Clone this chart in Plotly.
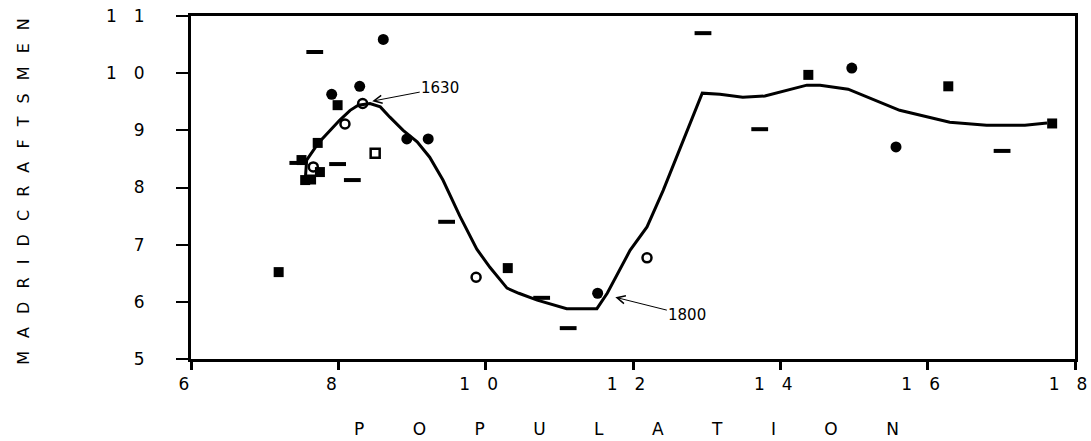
import plotly.graph_objects as go

# Smoothed trend of Madrid craftsmen against population
trend_x = [7.55, 7.57, 7.73, 7.89, 8.02, 8.16, 8.27, 8.43, 8.57, 8.70, 8.88, 9.07,
           9.24, 9.42, 9.65, 9.88, 10.06, 10.29, 10.45, 10.70, 11.10, 11.51, 11.65,
           11.96, 12.19, 12.41, 12.94, 13.18, 13.49, 13.79, 14.36, 14.54, 14.92,
           15.62, 16.30, 16.80, 17.32, 17.62]
trend_y = [8.12, 8.48, 8.78, 9.00, 9.18, 9.35, 9.44, 9.47, 9.41, 9.23, 9.00, 8.80,
           8.53, 8.13, 7.50, 6.92, 6.60, 6.24, 6.15, 6.03, 5.88, 5.88, 6.15,
           6.90, 7.31, 7.95, 9.65, 9.63, 9.58, 9.60, 9.79, 9.79, 9.72,
           9.35, 9.14, 9.09, 9.09, 9.13]

# Observations, grouped by plotting symbol
sq_x = [7.19, 7.99, 7.72, 7.50, 7.75, 7.55, 7.63, 10.30, 14.38, 16.28, 17.69]
sq_y = [6.52, 9.44, 8.78, 8.48, 8.27, 8.13, 8.14, 6.59, 9.97, 9.77, 9.12]

dot_x = [8.61, 8.29, 7.91, 8.93, 9.22, 11.52, 14.97, 15.57]
dot_y = [10.59, 9.77, 9.63, 8.85, 8.85, 6.15, 10.09, 8.71]

ring_x = [8.09, 7.66, 9.87, 12.19, 8.33]
ring_y = [9.11, 8.36, 6.43, 6.77, 9.47]

box_x = [8.50]
box_y = [8.60]

dash_x = [7.68, 7.45, 7.99, 8.19, 9.47, 10.76, 11.12, 12.95, 13.72, 17.01]
dash_y = [10.37, 8.43, 8.41, 8.13, 7.40, 6.07, 5.54, 10.70, 9.02, 8.64]

# Labelled years on the trend
year_labels = ["1630", "1800"]
year_x = [8.46, 11.76]
year_y = [9.51, 6.08]

x_tick_values = [6, 8, 10, 12, 14, 16, 18]
y_tick_values = [5, 6, 7, 8, 9, 10, 11]

x_title = "POPULATION"
y_title = "MADRIDCRAFTSMEN"

FONT = "DejaVu Sans, Liberation Sans, Arial, sans-serif"


def spaced_digits(v):
    return "\u2003".join(str(v))


def spaced_letters(word, sep):
    return sep.join(word)


fig = go.Figure()

fig.add_trace(go.Scatter(x=trend_x, y=trend_y, mode="lines",
                         line=dict(color="black", width=3), hoverinfo="skip"))

fig.add_trace(go.Scatter(x=sq_x, y=sq_y, mode="markers",
                         marker=dict(symbol="square", size=10, color="black")))
fig.add_trace(go.Scatter(x=dot_x, y=dot_y, mode="markers",
                         marker=dict(symbol="circle", size=11, color="black")))
fig.add_trace(go.Scatter(x=ring_x, y=ring_y, mode="markers",
                         marker=dict(symbol="circle-open", size=9,
                                     color="black", line=dict(width=2.5))))
fig.add_trace(go.Scatter(x=box_x, y=box_y, mode="markers",
                         marker=dict(symbol="square-open", size=9,
                                     color="black", line=dict(width=2.5))))
fig.add_trace(go.Scatter(x=dash_x, y=dash_y, mode="markers",
                         marker=dict(symbol="line-ew", size=12,
                                     color="black", line=dict(width=4, color="black"))))

offsets = [(68, -13), (72, 18)]
for lbl, xv, yv, (ax, ay) in zip(year_labels, year_x, year_y, offsets):
    fig.add_annotation(x=xv, y=yv, text=lbl, showarrow=True,
                       ax=ax, ay=ay, arrowhead=5, arrowsize=1.6, arrowwidth=1,
                       arrowcolor="black", standoff=0,
                       font=dict(family=FONT, size=15, color="black"))

fig.add_annotation(text=spaced_letters(x_title, "\u2003\u2003\u2002\u2005\u200a"),
                   xref="paper", yref="paper", x=0.493, y=-0.205,
                   xanchor="center", yanchor="middle", showarrow=False,
                   font=dict(family=FONT, size=17, color="black"))
fig.add_annotation(text=spaced_letters(y_title, "\u2002\u00a0"),
                   xref="paper", yref="paper", x=-0.189, y=0.49,
                   xanchor="center", yanchor="middle", showarrow=False,
                   textangle=-90,
                   font=dict(family=FONT, size=16, color="black"))

fig.update_xaxes(range=[6, 18], tickvals=x_tick_values,
                 ticktext=[spaced_digits(v) for v in x_tick_values],
                 showgrid=False, zeroline=False, showline=True, linewidth=3,
                 linecolor="black", mirror=True, ticks="outside", ticklen=8,
                 tickwidth=3, tickcolor="black", ticklabelshift=-7,
                 automargin=False, ticklabeloverflow="allow",
                 tickfont=dict(family=FONT, size=17, color="black"))
fig.update_yaxes(range=[5, 11], tickvals=y_tick_values,
                 ticktext=[spaced_digits(v) for v in y_tick_values],
                 showgrid=False, zeroline=False, showline=True, linewidth=3,
                 linecolor="black", mirror=True, ticks="outside", ticklen=12,
                 tickwidth=2, tickcolor="black", ticklabelstandoff=28,
                 automargin=False,
                 tickfont=dict(family=FONT, size=17, color="black"))

fig.update_layout(width=1091, height=441, showlegend=False,
                  margin=dict(l=191, r=16, t=16, b=82),
                  paper_bgcolor="white", plot_bgcolor="white")

fig.write_html("out.html")
